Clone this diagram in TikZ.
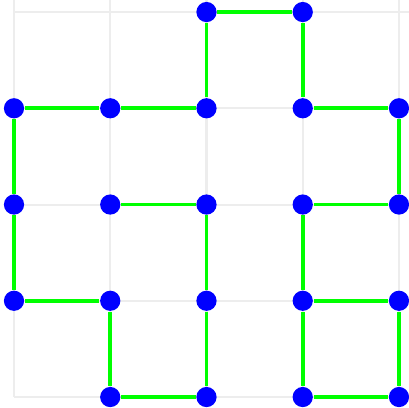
\documentclass[tikz,border=0pt]{standalone}
\begin{document}
\begin{tikzpicture}[
  gridline/.style={draw=black!7, line width=0.6pt},
  edge/.style={draw={rgb,255:red,0;green,255;blue,0}, line width=1.1pt},
  dot/.style={circle, fill={rgb,255:red,0;green,0;blue,255}, inner sep=0pt, minimum size=0.21cm}
]
\useasboundingbox (-0.1455,-0.104) rectangle (4.104,4.125);
\begin{scope}
\clip (-0.1455,-0.104) rectangle (4.104,4.125);
\foreach \i in {0,...,4} {
  \draw[gridline] (\i,0) -- (\i,4.2);
  \draw[gridline] (0,\i) -- (4.2,\i);
}
\end{scope}
\foreach \c/\r in {2/4,3/4,0/3,1/3,2/3,3/3,4/3,0/2,1/2,2/2,3/2,4/2,0/1,1/1,2/1,3/1,4/1,1/0,2/0,3/0,4/0}
  \node[dot] (n\c\r) at (\c,\r) {};
\foreach \a/\b in {n24/n34,n24/n23,n34/n33,n03/n13,n13/n23,n33/n43,n43/n42,n03/n02,n02/n01,n12/n22,n22/n21,n21/n20,n32/n42,n32/n31,n31/n30,n01/n11,n11/n10,n10/n20,n31/n41,n41/n40,n30/n40}
  \draw[edge] (\a) -- (\b);
\end{tikzpicture}
\end{document}
